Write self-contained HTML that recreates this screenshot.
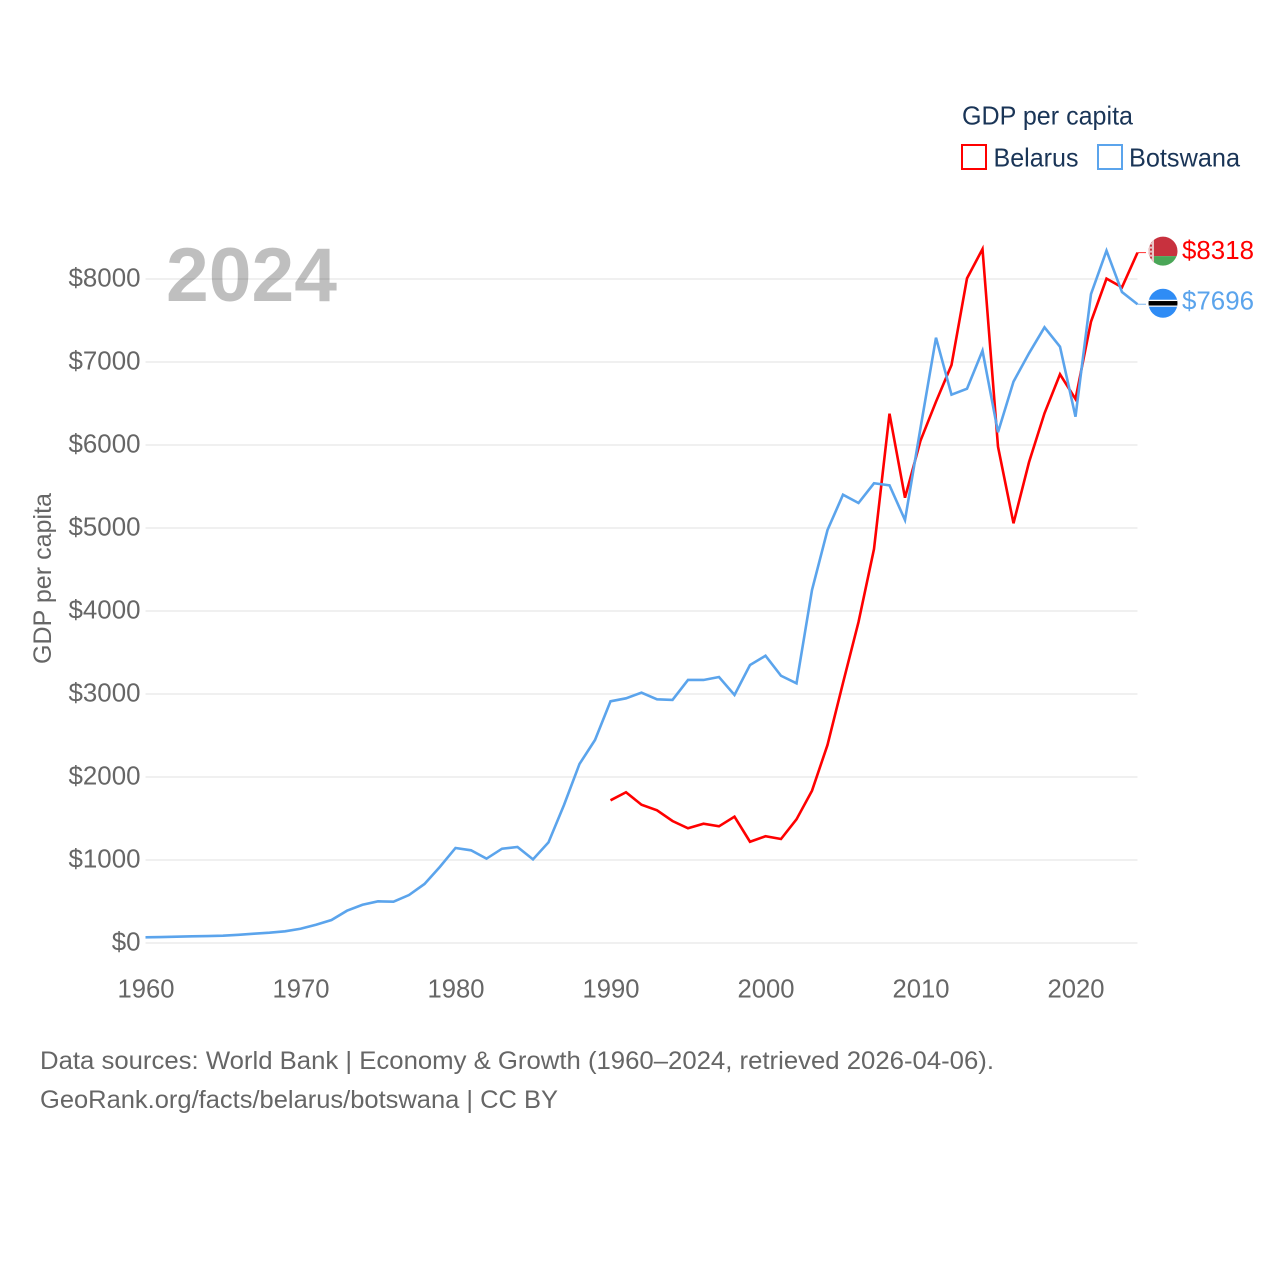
<!DOCTYPE html>
<html lang="en">
<head>
<meta charset="utf-8">
<title>GDP per capita: Belarus and Botswana</title>
<style>
html,body{margin:0;padding:0;background:#fff;}
svg{display:block;font-family:"Liberation Sans",sans-serif;}
</style>
</head>
<body>
<svg id="chart" xmlns="http://www.w3.org/2000/svg" width="1280" height="1280" viewBox="0 0 1280 1280">
  <rect width="1280" height="1280" fill="#fff"/>
  <g id="grid"></g>
  <g id="yticks"></g>
  <g id="xticks"></g>
  <text x="166" y="301" font-size="76" font-weight="700" fill="rgba(0,0,0,0.25)" textLength="171" lengthAdjust="spacingAndGlyphs">2024</text>
  <text transform="translate(51,664) rotate(-90)" font-size="25" fill="#666" textLength="171" lengthAdjust="spacingAndGlyphs">GDP per capita</text>
  <g id="series"></g>
  <g id="ends"></g>
  <g>
    <text x="962" y="124.500" font-size="26" fill="#1a3557" textLength="171" lengthAdjust="spacingAndGlyphs">GDP per capita</text>
    <rect x="962" y="145" width="24" height="24" fill="none" stroke="#ff0000" stroke-width="2"/>
    <text x="993.500" y="166.500" font-size="26" fill="#1a3557" textLength="85" lengthAdjust="spacingAndGlyphs">Belarus</text>
    <rect x="1098" y="145" width="24" height="24" fill="none" stroke="#5ba4ec" stroke-width="2"/>
    <text x="1129" y="166.500" font-size="26" fill="#1a3557" textLength="111" lengthAdjust="spacingAndGlyphs">Botswana</text>
  </g>
  <text x="40" y="1069" font-size="25" fill="#666" textLength="954" lengthAdjust="spacingAndGlyphs">Data sources: World Bank | Economy &amp; Growth (1960–2024, retrieved 2026-04-06).</text>
  <text x="40" y="1108" font-size="25" fill="#666" textLength="518" lengthAdjust="spacingAndGlyphs">GeoRank.org/facts/belarus/botswana | CC BY</text>
</svg>
<script>
const botswanaStartYear = 1960;
const botswanaValues = [69,72,76,80,84,88,99,112,124,141,172,220,277,389,461,502,498,578,711,919,1145,1117,1016,1136,1157,1008,1213,1663,2157,2446,2912,2948,3016,2936,2928,3169,3169,3205,2988,3349,3461,3220,3129,4253,4976,5401,5301,5539,5514,5096,6205,7293,6606,6678,7136,6153,6763,7105,7418,7184,6341,7819,8341,7843,7696];
const belarusStartYear = 1990;
const belarusValues = [1719,1816,1666,1599,1470,1382,1437,1406,1522,1220,1286,1253,1490,1835,2386,3133,3867,4747,6377,5365,6052,6522,6964,8008,8361,5980,5057,5792,6382,6852,6554,7486,8004,7900,8318];
const yTickValues = [0,1000,2000,3000,4000,5000,6000,7000,8000];
const xTickValues = [1960,1970,1980,1990,2000,2010,2020];

const NS = 'http://www.w3.org/2000/svg';
const xScale = function (year) { return 145.5 + (year - 1960) * 15.5; };
const yScale = function (value) { return 943 - value * 0.083; };
const make = function (parent, tag, attrs, text) {
  const el = document.createElementNS(NS, tag);
  for (const k in attrs) el.setAttribute(k, attrs[k]);
  if (text !== undefined) el.textContent = text;
  parent.appendChild(el);
  return el;
};
const grid = document.getElementById('grid');
const yticks = document.getElementById('yticks');
const xticks = document.getElementById('xticks');
const series = document.getElementById('series');
const ends = document.getElementById('ends');

yTickValues.forEach(function (v) {
  const line = make(grid, 'line', {x1: 145.5, x2: 1137.5, y1: yScale(v), y2: yScale(v), stroke: '#ececec', 'stroke-width': 1.6});
  
  
  const label = '$' + v;
  const t = make(yticks, 'text', {x: 140.5, y: yScale(v) + 7.5, 'text-anchor': 'end', 'font-size': 26, fill: '#666', textLength: label.length * 14.4, lengthAdjust: 'spacingAndGlyphs'}, label);
  
  
});

xTickValues.forEach(function (year) {
  const t = make(xticks, 'text', {x: xScale(year) + 0.5, y: 997.500, 'text-anchor': 'middle', 'font-size': 26, fill: '#666', textLength: 57, lengthAdjust: 'spacingAndGlyphs'}, String(year));
  
  
});

const drawSeries = function (startYear, values, color) {
  const pts = values.map(function (v, i) { return xScale(startYear + i) + ',' + yScale(v); }).join(' ');
  const line = make(series, 'polyline', {points: pts, fill: 'none', stroke: color, 'stroke-width': 2.6, 'stroke-linejoin': 'miter'});
  return line;
};
const belarusLine = drawSeries(belarusStartYear, belarusValues, '#ff0000');


const botswanaLine = drawSeries(botswanaStartYear, botswanaValues, '#5ba4ec');



const belarusLast = belarusValues[belarusValues.length - 1];
const botswanaLast = botswanaValues[botswanaValues.length - 1];
const by = yScale(belarusLast);
const oy = yScale(botswanaLast);
const fx = 1163;

const c1 = make(ends, 'line', {x1: 1137.5, x2: 1146, y1: by, y2: by, stroke: '#ff0000', 'stroke-width': 1, opacity: 0.8});


const c2 = make(ends, 'line', {x1: 1137.5, x2: 1146, y1: oy, y2: oy, stroke: '#5ba4ec', 'stroke-width': 1, opacity: 0.8});



const defs = make(ends, 'defs', {});
const cp1 = make(defs, 'clipPath', {id: 'clip-by'});
make(cp1, 'circle', {cx: fx, cy: by - 1.5, r: 14.5});
const cp2 = make(defs, 'clipPath', {id: 'clip-bw'});
make(cp2, 'circle', {cx: fx, cy: oy - 1, r: 14.5});

const flagBy = make(ends, 'g', {'clip-path': 'url(#clip-by)'});


make(flagBy, 'rect', {x: fx - 15, y: by - 16.5, width: 30, height: 20, fill: '#c8313e'});
make(flagBy, 'rect', {x: fx - 15, y: by + 3.500, width: 30, height: 11, fill: '#4aa657'});
make(flagBy, 'rect', {x: fx - 15, y: by - 16.5, width: 6, height: 31, fill: '#e8c4c6'});
make(flagBy, 'line', {x1: fx - 12, x2: fx - 12, y1: by - 16, y2: by + 14, stroke: '#c8313e', 'stroke-width': 2, 'stroke-dasharray': '2 2'});

const flagBw = make(ends, 'g', {'clip-path': 'url(#clip-bw)'});


make(flagBw, 'rect', {x: fx - 15, y: oy - 16, width: 30, height: 30, fill: '#2f8cf5'});
make(flagBw, 'rect', {x: fx - 15, y: oy - 4.5, width: 30, height: 7, fill: '#fff'});
make(flagBw, 'rect', {x: fx - 15, y: oy - 3.2, width: 30, height: 4.5, fill: '#000'});

const t1 = make(ends, 'text', {x: 1182, y: by + 6.5, 'font-size': 26, fill: '#ff0000', textLength: 72, lengthAdjust: 'spacingAndGlyphs'}, '$' + belarusLast);


const t2 = make(ends, 'text', {x: 1182, y: oy + 5.500, 'font-size': 26, fill: '#5ba4ec', textLength: 72, lengthAdjust: 'spacingAndGlyphs'}, '$' + botswanaLast);


</script>
</body>
</html>
